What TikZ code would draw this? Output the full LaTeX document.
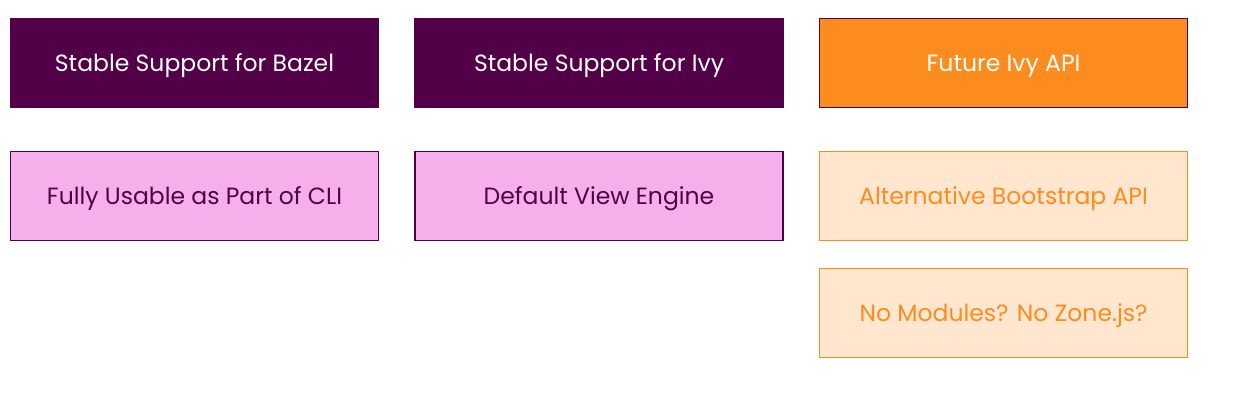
\documentclass[tikz,border=0pt]{standalone}
\usepackage{fontspec}
\setmainfont{Poppins}
\usetikzlibrary{positioning}
\definecolor{plum}{HTML}{520047}
\definecolor{lilac}{HTML}{F5B0EC}
\definecolor{tangerine}{HTML}{FD8C1F}
\definecolor{peach}{HTML}{FFE6CE}
\begin{document}
\begin{tikzpicture}[x=1pt,y=-1pt,node distance=44pt and 36.5pt,
  box/.style={rectangle,minimum width=368pt,minimum height=89pt,line width=1.4pt,
    outer sep=0pt,font=\fontsize{23.5}{28}\selectfont,inner sep=0pt,
    text height=16.4pt,text depth=0pt},
  stable/.style={box,fill=plum,draw=plum,text=white},
  current/.style={box,fill=lilac,draw=plum,text=plum},
  future/.style={box,fill=tangerine,draw=plum,text=white},
  idea/.style={box,fill=peach,draw=tangerine,text=tangerine}]
  \useasboundingbox (0,0) rectangle (1247,418);
  \node[stable] (bazel) at (194.5,63) {Stable Support for Bazel};
  \node[stable] (ivy) [right=of bazel] {Stable Support for Ivy};
  \node[future] (api) [right=of ivy] {Future Ivy API};
  \node[current] (cli) [below=of bazel] {Fully Usable as Part of CLI};
  \node[current] (engine) [below=of ivy] {Default View Engine};
  \node[idea] (bootstrap) [below=of api] {Alternative Bootstrap API};
  \node[idea] (zone) [below=28pt of bootstrap] {No Modules? No Zone.js?};
\end{tikzpicture}
\end{document}
